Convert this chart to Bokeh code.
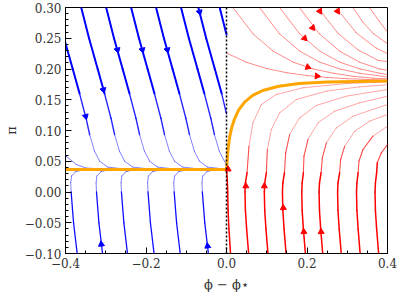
from bokeh.plotting import figure
from bokeh.models import Range1d, FixedTicker, ColumnDataSource, Span
from bokeh.embed import file_html
from bokeh.resources import INLINE

# ---------------- data ----------------
x_ticks = [-0.4, -0.2, 0.0, 0.2, 0.4]
x_labels = ["\u22120.4", "\u22120.2", "0.0", "0.2", "0.4"]
y_ticks = [-0.10, -0.05, 0.0, 0.05, 0.10, 0.15, 0.20, 0.25, 0.30]
y_labels = ["\u22120.10", "\u22120.05", "0.00", "0.05", "0.10", "0.15", "0.20", "0.25", "0.30"]

# blue streamlines above the separatrix (phi < phi*)
T = [0.30, 0.25, 0.20, 0.16, 0.12, 0.0935, 0.0665, 0.050, 0.0405, 0.0377, 0.0368]
blue_up_x = [
    [-0.423, -0.4035, -0.382, -0.365, -0.349, -0.340, -0.328, -0.315, -0.295, -0.258, -0.173],
    [-0.361, -0.3415, -0.320, -0.303, -0.287, -0.278, -0.266, -0.253, -0.233, -0.196, -0.111],
    [-0.299, -0.2795, -0.258, -0.241, -0.225, -0.216, -0.204, -0.191, -0.171, -0.134, -0.049],
    [-0.237, -0.2175, -0.196, -0.179, -0.163, -0.154, -0.142, -0.129, -0.109, -0.072, 0.0],
    [-0.175, -0.1555, -0.134, -0.117, -0.101, -0.092, -0.080, -0.067, -0.047, -0.010, 0.0],
    [-0.113, -0.0935, -0.072, -0.055, -0.039, -0.030, -0.018, -0.005, 0.0],
    [-0.070, -0.0505, -0.029, -0.012, 0.0],
    [-0.017, 0.0],
    [-0.415, -0.398, -0.373, -0.349, -0.316, -0.235],
]
blue_up_y = [
    T, T, T, T, T,
    [0.30, 0.25, 0.20, 0.16, 0.12, 0.0935, 0.0665, 0.050, 0.046],
    [0.30, 0.25, 0.20, 0.16, 0.127],
    [0.30, 0.256],
    [0.064, 0.058, 0.0447, 0.039, 0.0377, 0.0368],
]

# blue streamlines below the separatrix
B = [-0.10, -0.05, 0.0, 0.015, 0.026, 0.033, 0.0356, 0.0366]
blue_lo_x = [
    [-0.371, -0.380, -0.386, -0.387, -0.385, -0.375, -0.359, -0.321],
    [-0.308, -0.317, -0.323, -0.324, -0.322, -0.312, -0.296, -0.258],
    [-0.246, -0.255, -0.261, -0.262, -0.260, -0.250, -0.234, -0.196],
    [-0.180, -0.189, -0.195, -0.196, -0.194, -0.184, -0.168, -0.130],
    [-0.115, -0.124, -0.130, -0.131, -0.129, -0.119, -0.103, -0.065],
    [-0.045, -0.054, -0.060, -0.061, -0.059, -0.049, -0.033, 0.0],
]
blue_lo_y = [B, B, B, B, B, B]

# red streamlines above the orange curve (phi > phi*)
red_up_x = [
    [0.016, 0.066, 0.116, 0.166, 0.216, 0.266, 0.316, 0.366, 0.4],
    [0.082, 0.132, 0.182, 0.232, 0.282, 0.332, 0.4],
    [0.132, 0.182, 0.232, 0.282, 0.332, 0.382, 0.4],
    [0.181, 0.231, 0.281, 0.331, 0.381, 0.4],
    [0.227, 0.277, 0.327, 0.377, 0.4],
    [0.272, 0.322, 0.372, 0.4],
    [0.314, 0.339, 0.364, 0.4],
    [0.355, 0.378, 0.4],
    [0.0, 0.05, 0.1, 0.15, 0.2, 0.25, 0.3, 0.4],
]
red_up_y = [
    [0.30, 0.257, 0.229, 0.211, 0.200, 0.193, 0.188, 0.185, 0.184],
    [0.30, 0.257, 0.229, 0.211, 0.200, 0.193, 0.187],
    [0.30, 0.257, 0.229, 0.211, 0.200, 0.193, 0.191],
    [0.30, 0.257, 0.229, 0.211, 0.200, 0.198],
    [0.30, 0.258, 0.231, 0.214, 0.212],
    [0.30, 0.259, 0.234, 0.225],
    [0.30, 0.276, 0.258, 0.241],
    [0.30, 0.279, 0.260],
    [0.226, 0.2108, 0.2007, 0.1939, 0.1893, 0.1862, 0.1842, 0.1819],
]

# red streamlines below the orange curve
red_lo_x = [
    [0.010, 0.006, 0.004, 0.003, 0.002, 0.0],
    [0.055, 0.050, 0.047, 0.046, 0.047, 0.051, 0.0558, 0.0658, 0.0865, 0.1238, 0.19, 0.2978, 0.4],
    [0.103, 0.098, 0.095, 0.094, 0.095, 0.099, 0.1014, 0.1114, 0.1321, 0.1735, 0.2481, 0.3309, 0.4],
    [0.148, 0.143, 0.140, 0.139, 0.140, 0.144, 0.147, 0.1569, 0.1817, 0.2232, 0.2978, 0.4],
    [0.196, 0.191, 0.188, 0.187, 0.188, 0.191, 0.1925, 0.2025, 0.2274, 0.2688, 0.3309, 0.4],
    [0.239, 0.234, 0.231, 0.230, 0.231, 0.235, 0.2381, 0.2481, 0.2730, 0.3144, 0.4],
    [0.285, 0.280, 0.277, 0.276, 0.277, 0.281, 0.2837, 0.2937, 0.3186, 0.3557, 0.4],
    [0.332, 0.327, 0.324, 0.323, 0.324, 0.327, 0.3292, 0.3392, 0.3640, 0.4],
    [0.378, 0.373, 0.370, 0.369, 0.370, 0.373, 0.3747, 0.3847, 0.4],
]
red_lo_y = [
    [-0.10, -0.06, -0.03, 0.0, 0.02, 0.0366],
    [-0.10, -0.06, -0.03, 0.0, 0.015, 0.0312, 0.0745, 0.1125, 0.1423, 0.1586, 0.1694, 0.1764, 0.1791],
    [-0.10, -0.06, -0.03, 0.0, 0.015, 0.0312, 0.0691, 0.1016, 0.1287, 0.1504, 0.1640, 0.1710, 0.1743],
    [-0.10, -0.06, -0.03, 0.0, 0.015, 0.0312, 0.0637, 0.0935, 0.1206, 0.1407, 0.1558, 0.1667],
    [-0.10, -0.06, -0.03, 0.0, 0.015, 0.0312, 0.0583, 0.0854, 0.1125, 0.1314, 0.1450, 0.1558],
    [-0.10, -0.06, -0.03, 0.0, 0.015, 0.0312, 0.0556, 0.0800, 0.1043, 0.1233, 0.1423],
    [-0.10, -0.06, -0.03, 0.0, 0.015, 0.0312, 0.0530, 0.0745, 0.0989, 0.1152, 0.1260],
    [-0.10, -0.06, -0.03, 0.0, 0.015, 0.0312, 0.0504, 0.0691, 0.0909, 0.1070],
    [-0.10, -0.06, -0.03, 0.0, 0.015, 0.0312, 0.0475, 0.0637, 0.0772],
]

# orange separatrix
orange_x = [-0.4, 0.0, 0.0015, 0.004, 0.008, 0.013, 0.02, 0.03, 0.045, 0.065, 0.09, 0.13, 0.18, 0.25, 0.4]
orange_y = [0.0366, 0.0366, 0.05, 0.07, 0.09, 0.105, 0.119, 0.133, 0.146, 0.157, 0.165, 0.172, 0.1765, 0.179, 0.1805]

# arrow heads (x, y, direction in degrees, 0 = pointing up)
blue_arrow_x = [-0.350, -0.306, -0.271, -0.209, -0.147, -0.067, -0.311, -0.047]
blue_arrow_y = [0.123, 0.166, 0.231, 0.231, 0.231, 0.2925, -0.085, -0.088]
blue_arrow_a = [194, 194, 194, 194, 194, 194, 7, 7]
red_arrow_x = [0.048, 0.094, 0.141, 0.192, 0.235, 0.004, 0.232, 0.276, 0.214, 0.194, 0.202, 0.225]
red_arrow_y = [0.0096, 0.0096, -0.0257, -0.0647, -0.0647, 0.037, 0.294, 0.294, 0.267, 0.250, 0.203, 0.1885]
red_arrow_a = [0, 0, 4, 4, 4, 0, 211, 211, 218, 225, 249, 264]

SERIF = "DejaVu Serif"


def segments(xs_list, ys_list, color, tiers):
    xs, ys, w, a = [], [], [], []
    for lx, ly in zip(xs_list, ys_list):
        for i in range(len(lx) - 1):
            xs.append([lx[i], lx[i + 1]])
            ys.append([ly[i], ly[i + 1]])
            ww, aa = tiers(0.5 * (ly[i] + ly[i + 1]))
            w.append(ww)
            a.append(aa)
    return ColumnDataSource(dict(xs=xs, ys=ys, w=w, a=a, c=[color] * len(xs)))


def tier_blue_up(y):
    if y >= 0.16:
        return 2.0, 1.0
    if y >= 0.09:
        return 1.4, 0.85
    return 0.9, 0.55


def tier_blue_lo(y):
    if y < 0.0:
        return 1.3, 0.95
    return 0.9, 0.55


def tier_red_lo(y):
    if y < 0.04:
        return 1.5, 1.0
    if y < 0.08:
        return 1.1, 0.7
    return 0.8, 0.45


def tier_red_up(y):
    return 0.9, 0.5


p = figure(frame_width=322, frame_height=246,
           x_range=Range1d(-0.4, 0.4), y_range=Range1d(-0.1, 0.3),
           output_backend="svg", toolbar_location=None,
           min_border_left=58, min_border_right=12, min_border_top=7, min_border_bottom=43)

for src in [segments(blue_up_x, blue_up_y, "#0000ff", tier_blue_up),
            segments(blue_lo_x, blue_lo_y, "#0000ff", tier_blue_lo),
            segments(red_up_x, red_up_y, "#ff0000", tier_red_up),
            segments(red_lo_x, red_lo_y, "#ff0000", tier_red_lo)]:
    p.multi_line("xs", "ys", source=src, line_color="c", line_width="w", line_alpha="a",
                 line_cap="round", line_join="round")

p.add_layout(Span(location=0, dimension="height", line_color="black", line_width=1.5, line_dash="2 2"))

p.line(orange_x, orange_y, line_color="#ffa500", line_width=3, line_join="round")

p.scatter(blue_arrow_x, blue_arrow_y, marker="triangle", size=6, angle=blue_arrow_a, angle_units="deg",
          fill_color="#0000ff", line_color="#0000ff")
p.scatter(red_arrow_x, red_arrow_y, marker="triangle", size=6, angle=red_arrow_a, angle_units="deg",
          fill_color="#ff0000", line_color="#ff0000")

# axes styling
p.grid.visible = False
p.outline_line_color = "black"
p.outline_line_width = 1
p.outline_line_alpha = 1
p.background_fill_color = "white"
p.border_fill_color = "white"

p.xaxis.ticker = FixedTicker(ticks=x_ticks, minor_ticks=[round(-0.4 + 0.05 * i, 2) for i in range(17)])
p.xaxis.major_label_overrides = dict(zip(x_ticks, x_labels))
p.yaxis.ticker = FixedTicker(ticks=y_ticks, minor_ticks=[round(-0.10 + 0.01 * i, 2) for i in range(41)])
p.yaxis.major_label_overrides = dict(zip(y_ticks, y_labels))

for ax in (p.xaxis[0], p.yaxis[0]):
    ax.axis_line_color = "black"
    ax.major_tick_line_color = "black"
    ax.minor_tick_line_color = "black"
    ax.major_tick_in = 6
    ax.major_tick_out = 0
    ax.minor_tick_in = 3
    ax.minor_tick_out = 0
    ax.major_label_text_font = SERIF
    ax.major_label_text_font_size = "12px"
    ax.major_label_text_color = "#333333"
    ax.axis_label_text_font = SERIF
    ax.axis_label_text_font_size = "13px"
    ax.axis_label_text_font_style = "normal"
    ax.axis_label_text_color = "#333333"
    ax.major_label_standoff = 4
    ax.axis_label_standoff = 3

p.xaxis.axis_label_standoff = 6
p.xaxis.axis_label = "\u03d5 \u2212 \u03d5\u22c6"
p.yaxis.axis_label = "\u03c0"

open("out.html", "w").write(file_html(p, INLINE))
